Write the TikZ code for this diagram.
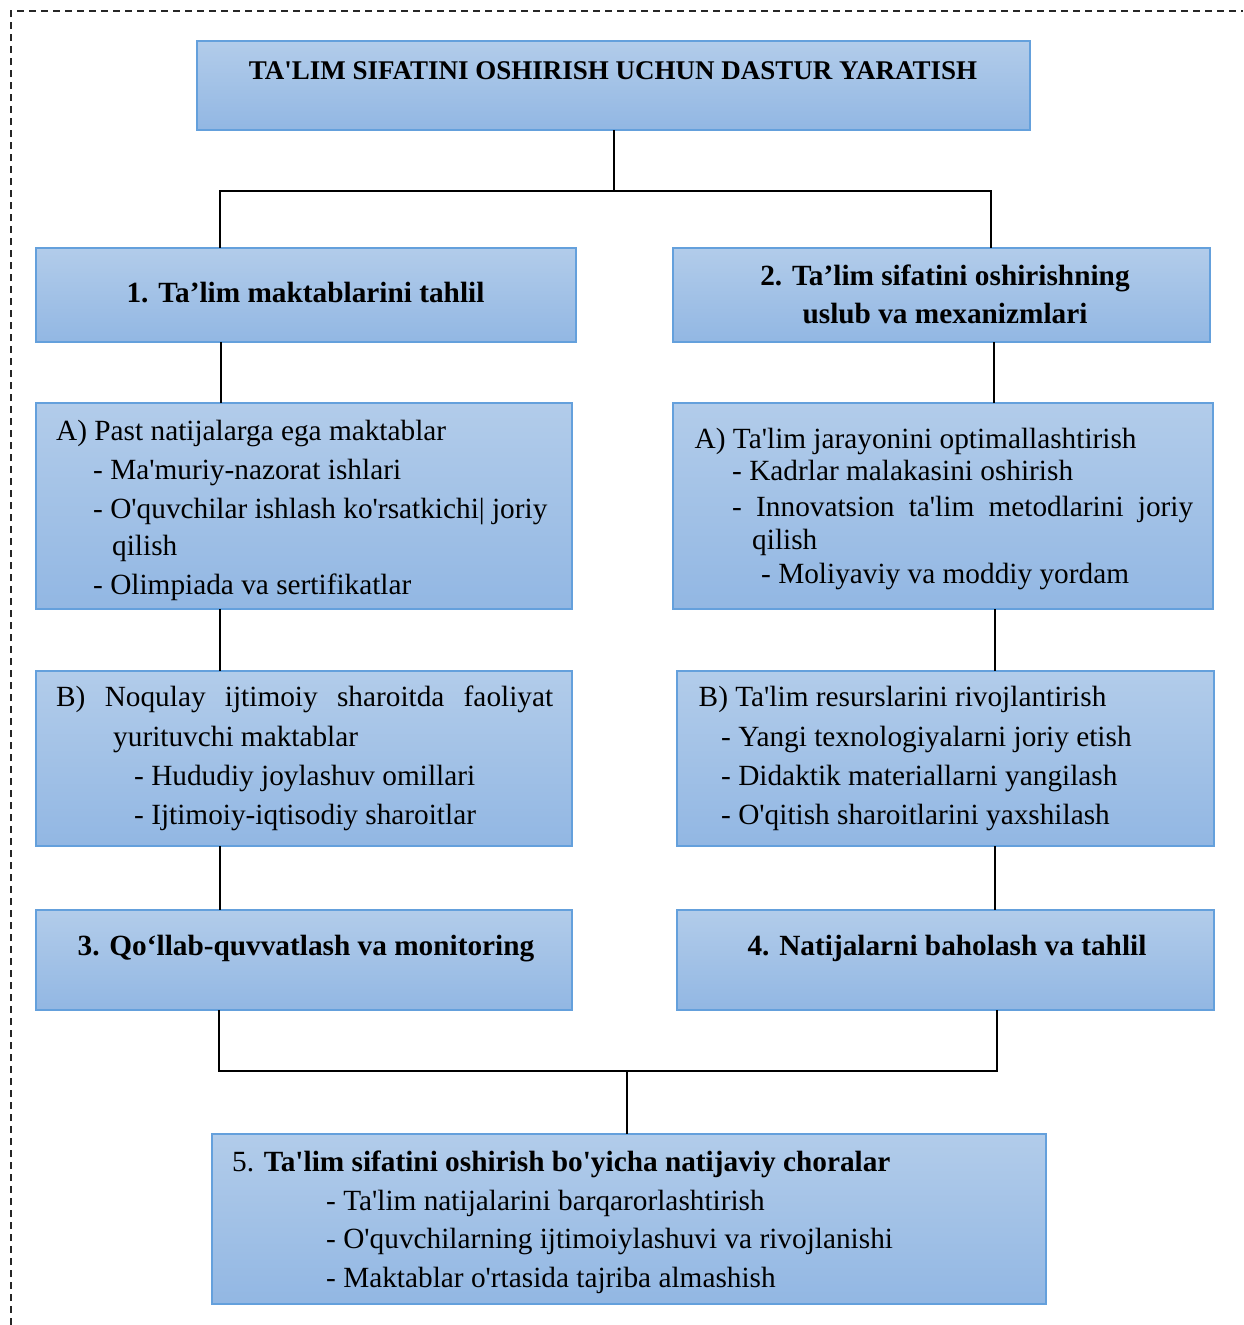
\documentclass[tikz,border=0pt]{standalone}
\usepackage{fontspec}
\newfontfamily\lib{Liberation Serif}
\definecolor{boxtop}{RGB}{178,204,234}
\definecolor{boxbot}{RGB}{146,183,227}
\definecolor{boxline}{RGB}{100,160,220}
\tikzset{
  box/.style={draw=boxline, line width=1.6pt, top color=boxtop, bottom color=boxbot,
              shading angle=0, inner sep=0pt, outer sep=0pt, anchor=north west},
  conn/.style={draw=black, line width=1.3pt},
  txt/.style={anchor=base west, inner sep=0pt, font=\lib\fontsize{29.3}{35}\selectfont},
  head/.style={anchor=base, inner sep=0pt, font=\lib\bfseries\fontsize{29.3}{35}\selectfont},
  ttl/.style={anchor=base, inner sep=0pt, font=\lib\bfseries\fontsize{27}{32}\selectfont},
}
\begin{document}
\begin{tikzpicture}[x=1pt,y=-1pt]
\useasboundingbox (0,0) rectangle (1243,1325);
% dashed frame
\coordinate (fbl) at (11,1325);
\coordinate (ftl) at (11,11);
\coordinate (ftr) at (1243,11);
\draw[line width=1.5pt, black!85, dash pattern=on 7pt off 5pt] (fbl) -- (ftl) -- (ftr);

% boxes
\node[box, minimum width=833pt, minimum height=89pt] (t) at (197,41) {};
\node[box, minimum width=540pt, minimum height=94pt] (b1) at (36,248) {};
\node[box, minimum width=537pt, minimum height=94pt] (b2) at (673,248) {};
\node[box, minimum width=536pt, minimum height=206pt] (a1) at (36,403) {};
\node[box, minimum width=540pt, minimum height=206pt] (a2) at (673,403) {};
\node[box, minimum width=536pt, minimum height=175pt] (c1) at (36,671) {};
\node[box, minimum width=537pt, minimum height=175pt] (c2) at (677,671) {};
\node[box, minimum width=536pt, minimum height=100pt] (d1) at (36,910) {};
\node[box, minimum width=537pt, minimum height=100pt] (d2) at (677,910) {};
\node[box, minimum width=834pt, minimum height=170pt] (e) at (212,1134) {};

% connectors
\coordinate (j1) at (614,191);
\coordinate (jl) at (220,191);
\coordinate (jr) at (991,191);
\draw[conn] (j1 |- t.south) -- (j1);
\draw[conn] (jl |- b1.north) -- (jl) -- (jr) -- (jr |- b2.north);
\coordinate (L1) at (221,0);
\coordinate (L2) at (220,0);
\coordinate (R1) at (994,0);
\coordinate (R2) at (995,0);
\draw[conn] (L1 |- b1.south) -- (L1 |- a1.north);
\draw[conn] (R1 |- b2.south) -- (R1 |- a2.north);
\draw[conn] (L2 |- a1.south) -- (L2 |- c1.north);
\draw[conn] (R2 |- a2.south) -- (R2 |- c2.north);
\draw[conn] (L2 |- c1.south) -- (L2 |- d1.north);
\draw[conn] (R2 |- c2.south) -- (R2 |- d2.north);
\coordinate (ml) at (219,1071);
\coordinate (mr) at (997,1071);
\coordinate (mc) at (627,1071);
\draw[conn] (ml |- d1.south) -- (ml) -- (mr) -- (mr |- d2.south);
\draw[conn] (mc) -- (mc |- e.north);

% title
\node[ttl] (tt) at (613,79.3) {TA'LIM SIFATINI OSHIRISH UCHUN DASTUR YARATISH};
% headings
\node[head] (h1) at (305.5,302.7) {1. Ta’lim maktablarini tahlil};
\node[head] (h2a) at (945,285) {2. Ta’lim sifatini oshirishning};
\node[head] (h2b) at (945,323.5) {uslub va mexanizmlari};
\node[head] (h3) at (306,955) {3. Qo‘llab-quvvatlash va monitoring};
\node[head] (h4) at (947,955) {4. Natijalarni baholash va tahlil};

% box A left
\node[txt] (a1l1) at (56,440.7) {A) Past natijalarga ega maktablar};
\node[txt] (a1l2) at (93,479.3) {- Ma'muriy-nazorat ishlari};
\node[txt] (a1l3) at (93,518.3) {- O'quvchilar ishlash ko'rsatkichi| joriy};
\node[txt] (a1l4) at (112,555.7) {qilish};
\node[txt] (a1l5) at (93,594.3) {- Olimpiada va sertifikatlar};

% box A right
\node[txt] (a2l1) at (694.5,448.3) {A) Ta'lim jarayonini optimallashtirish};
\node[txt] (a2l2) at (732,480.7) {- Kadrlar malakasini oshirish};
\node[txt] (a2l3) at (732,516) {\makebox[461pt][s]{- Innovatsion ta'lim metodlarini joriy}};
\node[txt] (a2l4) at (752,549.3) {qilish};
\node[txt] (a2l5) at (761,583.3) {- Moliyaviy va moddiy yordam};

% box B left
\node[txt] (c1l1) at (56,706.7) {\makebox[497pt][s]{B) Noqulay ijtimoiy sharoitda faoliyat}};
\node[txt] (c1l2) at (113,746) {yurituvchi maktablar};
\node[txt] (c1l3) at (134,785) {- Hududiy joylashuv omillari};
\node[txt] (c1l4) at (134,824) {- Ijtimoiy-iqtisodiy sharoitlar};

% box B right
\node[txt] (c2l1) at (698.5,706.7) {B) Ta'lim resurslarini rivojlantirish};
\node[txt] (c2l2) at (721,746) {- Yangi texnologiyalarni joriy etish};
\node[txt] (c2l3) at (721,785) {- Didaktik materiallarni yangilash};
\node[txt] (c2l4) at (721,824) {- O'qitish sharoitlarini yaxshilash};

% box 5
\node[txt] (e1) at (232,1171.7) {5. \textbf{Ta'lim sifatini oshirish bo'yicha natijaviy choralar}};
\node[txt] (e2) at (326,1210) {- Ta'lim natijalarini barqarorlashtirish};
\node[txt] (e3) at (326,1248.5) {- O'quvchilarning ijtimoiylashuvi va rivojlanishi};
\node[txt] (e4) at (326,1287) {- Maktablar o'rtasida tajriba almashish};
\end{tikzpicture}
\end{document}
